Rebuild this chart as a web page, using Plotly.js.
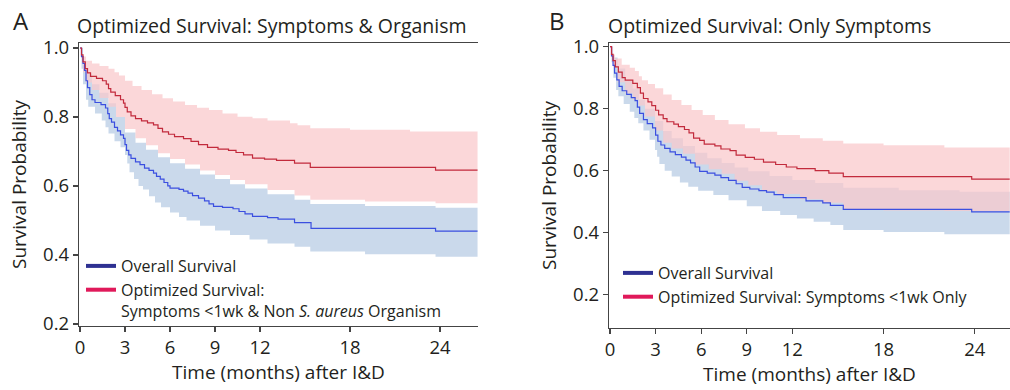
<!DOCTYPE html>
<html>
<head>
<meta charset="utf-8">
<script src="https://cdn.plot.ly/plotly-3.0.1.min.js"></script>
<style>html,body{margin:0;padding:0;background:#fff;}#chart{width:1010px;height:390px;}</style>
</head>
<body>
<div id="chart"></div>
<script>
// ---------- Panel A: Symptoms & Organism ----------
const tA_overall = [0,0.1,0.2,0.3,0.4,0.5,0.65,0.8,1.0,1.4,1.7,1.85,1.95,2.1,2.3,2.5,2.7,2.9,3.0,3.1,3.25,3.4,3.7,4.0,4.3,4.6,4.9,5.1,5.35,5.6,5.85,6.0,6.6,6.9,7.2,7.5,7.9,8.3,8.6,8.9,9.5,10.2,10.6,11.0,11.5,12.5,13.2,14.3,15.4,23.7,26.5];
const sA_overall = [1.0,0.975,0.955,0.935,0.905,0.885,0.865,0.85,0.842,0.836,0.826,0.81,0.795,0.785,0.77,0.76,0.748,0.738,0.72,0.703,0.69,0.68,0.67,0.662,0.652,0.645,0.637,0.628,0.62,0.61,0.6,0.594,0.59,0.585,0.579,0.572,0.565,0.557,0.548,0.541,0.538,0.534,0.526,0.519,0.512,0.508,0.504,0.494,0.477,0.469,0.469];

const tA_opt = [0,0.1,0.2,0.35,0.5,0.7,1.1,1.5,1.75,1.9,2.05,2.35,2.7,2.9,3.0,3.15,3.4,3.7,4.1,4.5,4.9,5.2,5.5,5.9,6.3,6.9,7.4,7.9,8.5,9.2,9.9,10.4,10.9,11.5,12.3,13.1,14.3,15.35,23.7,26.5];
const sA_opt = [1.0,0.98,0.96,0.94,0.928,0.918,0.912,0.905,0.895,0.882,0.872,0.862,0.85,0.84,0.828,0.815,0.803,0.795,0.789,0.783,0.777,0.767,0.757,0.75,0.743,0.737,0.729,0.72,0.712,0.707,0.703,0.697,0.69,0.681,0.678,0.674,0.666,0.654,0.646,0.646];

const tA_optUpper = [0,0.2,0.4,0.8,1.3,1.9,2.3,2.6,3.0,3.5,4.1,4.8,5.5,6.2,7.0,7.8,8.6,9.5,10.5,11.5,12.5,14.0,14.5,15.35,18,22,26.5];
const sA_optUpper = [1.0,0.975,0.963,0.955,0.948,0.94,0.93,0.92,0.905,0.89,0.878,0.866,0.854,0.845,0.835,0.827,0.82,0.81,0.801,0.796,0.79,0.782,0.776,0.767,0.763,0.758,0.753];
const tA_optLower = [0,0.2,0.4,0.8,1.3,1.9,2.4,3.0,3.7,4.4,5.2,6.0,7.0,8.0,9.0,10.0,11.0,12.5,14.3,15.35,19,23.7,26.5];
const sA_optLower = [1.0,0.93,0.9,0.878,0.855,0.83,0.8,0.765,0.738,0.718,0.695,0.678,0.662,0.645,0.632,0.617,0.605,0.588,0.572,0.56,0.555,0.55,0.545];

const tA_allUpper = [0,0.2,0.4,0.8,1.3,1.9,2.4,3.0,3.7,4.4,5.2,6.0,7.0,8.0,9.0,10.0,11.0,12.5,14.3,15.35,19,23.7,26.5];
const sA_allUpper = [1.0,0.95,0.925,0.895,0.87,0.84,0.8,0.755,0.725,0.705,0.683,0.666,0.65,0.633,0.62,0.605,0.593,0.576,0.56,0.548,0.542,0.537,0.532];
const tA_allLower = [0,0.1,0.2,0.4,0.55,1.0,1.45,1.7,1.9,2.3,2.7,3.0,3.15,3.3,3.6,3.9,4.2,4.6,5.0,5.4,6.0,6.6,7.1,8.0,9.0,10.0,11.3,12.5,14.3,15.35,19,23.7,26.5];
const sA_allLower = [1.0,0.94,0.895,0.85,0.83,0.81,0.79,0.77,0.752,0.73,0.712,0.69,0.665,0.64,0.62,0.6,0.59,0.57,0.552,0.538,0.523,0.51,0.5,0.485,0.471,0.458,0.445,0.433,0.424,0.41,0.402,0.395,0.39];

// ---------- Panel B: Only Symptoms ----------
const tB_overall = [0,0.1,0.2,0.3,0.45,0.6,0.8,1.1,1.4,1.65,1.8,1.95,2.2,2.45,2.8,3.0,3.15,3.35,3.6,3.95,4.3,4.7,5.0,5.3,5.6,5.9,6.4,6.9,7.3,7.8,8.3,8.7,9.2,9.8,10.3,10.8,11.4,12.9,14.0,14.5,15.35,23.8,26.3];
const sB_overall = [1.0,0.97,0.94,0.915,0.893,0.872,0.858,0.846,0.836,0.826,0.805,0.785,0.765,0.752,0.738,0.715,0.695,0.683,0.672,0.661,0.652,0.644,0.634,0.625,0.612,0.598,0.592,0.586,0.578,0.569,0.558,0.546,0.541,0.536,0.531,0.523,0.513,0.503,0.496,0.488,0.475,0.467,0.467];

const tB_opt = [0,0.1,0.2,0.35,0.55,0.8,1.0,1.5,1.8,2.0,2.2,2.5,2.75,3.0,3.2,3.5,3.75,4.2,4.5,4.9,5.2,5.5,5.9,6.2,6.9,7.3,7.9,8.3,8.9,9.5,10.1,10.9,11.6,12.3,13.5,14.4,15.35,23.8,26.3];
const sB_opt = [1.0,0.975,0.955,0.935,0.918,0.9,0.892,0.882,0.868,0.85,0.833,0.822,0.81,0.795,0.78,0.768,0.758,0.75,0.742,0.733,0.722,0.705,0.698,0.686,0.68,0.67,0.665,0.65,0.643,0.637,0.628,0.62,0.612,0.607,0.6,0.592,0.581,0.573,0.573];

const tB_optUpper = [0,0.15,0.33,0.77,1.3,1.64,1.9,2.1,2.5,2.96,3.5,4.06,4.7,5.37,6.1,6.9,7.8,8.88,9.87,11,12.5,14,15.35,18,22,26.3];
const sB_optUpper = [1.0,0.975,0.962,0.942,0.932,0.922,0.905,0.892,0.88,0.866,0.846,0.828,0.812,0.796,0.78,0.764,0.75,0.737,0.726,0.715,0.705,0.697,0.688,0.682,0.675,0.669];
const tB_optLower = [0,0.2,0.5,1.0,1.5,1.9,2.3,2.96,3.5,4.06,4.8,5.6,6.5,7.35,8.2,9.1,10,11,12.5,14,15.35,18,22,26.3];
const sB_optLower = [1.0,0.935,0.885,0.85,0.83,0.81,0.775,0.73,0.69,0.672,0.655,0.62,0.605,0.59,0.568,0.553,0.535,0.525,0.508,0.497,0.475,0.472,0.47,0.468];

const tB_allUpper = [0,0.2,0.5,1.0,1.5,1.9,2.3,2.96,3.5,4.06,4.8,5.59,6.4,7.35,8.2,9.1,10.5,12,13.5,15.35,19,23,26.3];
const sB_allUpper = [1.0,0.965,0.93,0.89,0.865,0.83,0.8,0.76,0.728,0.705,0.68,0.658,0.64,0.625,0.61,0.598,0.583,0.57,0.56,0.545,0.537,0.532,0.527];
const tB_allLower = [0,0.1,0.22,0.4,0.55,0.9,1.3,1.6,1.86,2.2,2.6,2.96,3.1,3.25,3.6,4.06,4.6,5.15,5.8,6.8,7.8,9,10,11.2,12.3,13.4,14.5,15.35,18,22,26.3];
const sB_allLower = [1.0,0.95,0.9,0.86,0.84,0.815,0.79,0.77,0.753,0.73,0.7,0.667,0.645,0.622,0.6,0.581,0.562,0.548,0.535,0.522,0.505,0.485,0.47,0.457,0.446,0.435,0.425,0.409,0.402,0.395,0.387];

// ---------- Labels ----------
const xTicks = [0,3,6,9,12,18,24];
const yTicksA = [0.2,0.4,0.6,0.8,1.0];
const yTicksB = [0.2,0.4,0.6,0.8,1.0];
const titleA = 'Optimized Survival: Symptoms & Organism';
const titleB = 'Optimized Survival: Only Symptoms';
const legendA = ['Overall Survival', 'Optimized Survival:<br>Symptoms &lt;1wk & Non <i>S. aureus</i> Organism'];
const legendB = ['Overall Survival', 'Optimized Survival: Symptoms &lt;1wk Only'];

// ---------- Styles ----------
const BLUE_LINE = '#3b4fe0', RED_LINE = '#c22a3c';
const BLUE_FILL = 'rgba(150,180,216,0.5)', RED_FILL = 'rgba(250,199,202,0.72)';
const BLUE_LEG = '#2e3192', RED_LEG = '#e0195a';
const FONT = 'Open Sans, Noto Sans, sans-serif';
const TXT = '#231f20';

function band(tl, sl, tu, su, fill, xa, ya) {
  return [
    {x: tl, y: sl, xaxis: xa, yaxis: ya, mode: 'lines', line: {width: 0, shape: 'hv'}, showlegend: false, hoverinfo: 'skip'},
    {x: tu, y: su, xaxis: xa, yaxis: ya, mode: 'lines', line: {width: 0, shape: 'hv'}, fill: 'tonexty', fillcolor: fill, showlegend: false, hoverinfo: 'skip'}
  ];
}
function curve(t, s, color, xa, ya) {
  return {x: t, y: s, xaxis: xa, yaxis: ya, mode: 'lines', line: {color: color, width: 1.2, shape: 'hv'}, showlegend: false};
}
function legItem(name, color, xa, ya, leg) {
  return {x: [null], y: [null], xaxis: xa, yaxis: ya, mode: 'lines', name: name, line: {color: color, width: 4}, legend: leg};
}

const data = [].concat(
  band(tA_allLower, sA_allLower, tA_allUpper, sA_allUpper, BLUE_FILL, 'x', 'y'),
  band(tA_optLower, sA_optLower, tA_optUpper, sA_optUpper, RED_FILL, 'x', 'y'),
  [curve(tA_overall, sA_overall, BLUE_LINE, 'x', 'y'), curve(tA_opt, sA_opt, RED_LINE, 'x', 'y')],
  band(tB_allLower, sB_allLower, tB_allUpper, sB_allUpper, BLUE_FILL, 'x2', 'y2'),
  band(tB_optLower, sB_optLower, tB_optUpper, sB_optUpper, RED_FILL, 'x2', 'y2'),
  [curve(tB_overall, sB_overall, BLUE_LINE, 'x2', 'y2'), curve(tB_opt, sB_opt, RED_LINE, 'x2', 'y2')],
  [legItem(legendA[0], BLUE_LEG, 'x', 'y', 'legend'), legItem(legendA[1], RED_LEG, 'x', 'y', 'legend'),
   legItem(legendB[0], BLUE_LEG, 'x2', 'y2', 'legend2'), legItem(legendB[1], RED_LEG, 'x2', 'y2', 'legend2')]
);

const W = 1010, H = 390;
function xax(domain, range) {
  return {domain: domain, range: range, tickvals: xTicks, ticktext: xTicks.map(String),
    showgrid: false, zeroline: false, showline: true, mirror: true, linecolor: '#444', linewidth: 1.2,
    ticks: 'outside', ticklen: 5, tickwidth: 1.2, tickcolor: '#444',
    tickfont: {family: FONT, size: 18.5, color: TXT},
    title: {text: 'Time (months) after I&D', font: {family: FONT, size: 19, color: TXT}, standoff: 5}};
}
function yax(domain, range, ticks, anchor) {
  return {domain: domain, range: range, anchor: anchor, tickvals: ticks, ticktext: ticks.map(v => v.toFixed(1)),
    showgrid: false, zeroline: false, showline: true, linecolor: '#444', linewidth: 1.2,
    ticks: 'outside', ticklen: 5, tickwidth: 1.2, tickcolor: '#444',
    tickfont: {family: FONT, size: 18.5, color: TXT},
    title: {text: 'Survival Probability', font: {family: FONT, size: 19, color: TXT}, standoff: 11}};
}

const layout = {
  width: W, height: H, margin: {l: 0, r: 0, t: 0, b: 0},
  paper_bgcolor: '#fff', plot_bgcolor: '#fff',
  font: {family: FONT, size: 16, color: TXT},
  showlegend: true,
  xaxis: Object.assign(xax([79/W, 478/W], [-0.067, 26.53]), {anchor: 'y'}),
  yaxis: yax([1 - 326/H, 1 - 43/H], [0.194, 1.0145], yTicksA, 'x'),
  xaxis2: Object.assign(xax([609/W, 1], [-0.066, 26.32]), {anchor: 'y2'}),
  yaxis2: yax([1 - 328/H, 1 - 43/H], [0.0926, 1.012], yTicksB, 'x2'),
  legend: {x: 81/W, y: 1 - 249/H, xanchor: 'left', yanchor: 'top', bgcolor: 'rgba(0,0,0,0)', traceorder: 'normal',
    font: {family: FONT, size: 16, color: TXT}, valign: 'top', itemwidth: 30, tracegroupgap: 0},
  legend2: {x: 618/W, y: 1 - 256/H, xanchor: 'left', yanchor: 'top', bgcolor: 'rgba(0,0,0,0)', traceorder: 'normal',
    font: {family: FONT, size: 16, color: TXT}, valign: 'top', itemwidth: 30, tracegroupgap: 0},
  annotations: [
    {text: 'A', xref: 'paper', yref: 'paper', x: 11/W, y: 1 - 20/H, xanchor: 'left', yanchor: 'middle', showarrow: false, font: {family: FONT, size: 24, color: TXT}},
    {text: 'B', xref: 'paper', yref: 'paper', x: 547/W, y: 1 - 20/H, xanchor: 'left', yanchor: 'middle', showarrow: false, font: {family: FONT, size: 24, color: TXT}},
    {text: titleA, xref: 'paper', yref: 'paper', x: 75/W, y: 1 - 26/H, xanchor: 'left', yanchor: 'middle', showarrow: false, font: {family: FONT, size: 19.5, color: TXT}},
    {text: titleB, xref: 'paper', yref: 'paper', x: 606/W, y: 1 - 26/H, xanchor: 'left', yanchor: 'middle', showarrow: false, font: {family: FONT, size: 19.5, color: TXT}}
  ]
};

Plotly.newPlot('chart', data, layout, {staticPlot: true, displayModeBar: false});
</script>
</body>
</html>
